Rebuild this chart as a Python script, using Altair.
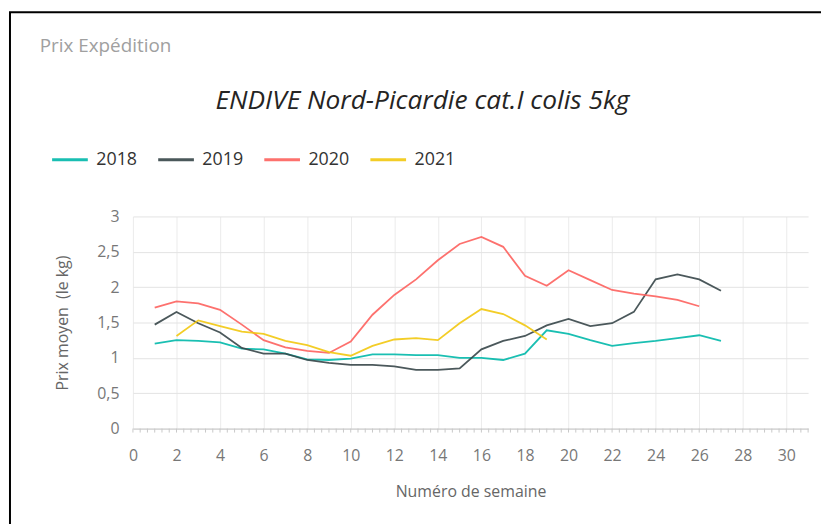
import altair as alt
import pandas as pd

weeks = list(range(1, 28))
v2018 = [1.20, 1.25, 1.24, 1.22, 1.13, 1.12, 1.06, 0.98, 0.97, 0.99, 1.05, 1.05, 1.04, 1.04,
         1.00, 1.00, 0.97, 1.06, 1.39, 1.34, 1.25, 1.17, 1.21, 1.24, 1.28, 1.32, 1.24]
v2019 = [1.47, 1.65, 1.49, 1.36, 1.14, 1.06, 1.06, 0.97, 0.93, 0.90, 0.90, 0.88, 0.83, 0.83,
         0.85, 1.12, 1.24, 1.31, 1.46, 1.55, 1.45, 1.49, 1.65, 2.11, 2.18, 2.11, 1.95]
weeks2020 = list(range(1, 27))
v2020 = [1.71, 1.80, 1.77, 1.68, 1.47, 1.25, 1.15, 1.10, 1.07, 1.23, 1.61, 1.89, 2.11, 2.38,
         2.61, 2.71, 2.57, 2.16, 2.02, 2.24, 2.10, 1.96, 1.91, 1.87, 1.82, 1.73]
weeks2021 = list(range(2, 20))
v2021 = [1.31, 1.53, 1.45, 1.37, 1.34, 1.24, 1.18, 1.08, 1.03, 1.17, 1.26, 1.28, 1.25, 1.49,
         1.69, 1.62, 1.46, 1.26]

years = ["2018", "2019", "2020", "2021"]
colors = ["#01B8AA", "#374649", "#FD625E", "#F2C80F"]
grid_weeks = list(range(0, 32, 2))
y_ticks = [0, 0.5, 1, 1.5, 2, 2.5, 3]
minor_ticks = [k / 3 for k in range(0, 94)]

title_text = "ENDIVE Nord-Picardie cat.I colis 5kg"
subtitle_text = "Prix Expédition"
FONT = "Open Sans"

rows = []
for yr, ws, vs in [("2018", weeks, v2018), ("2019", weeks, v2019),
                   ("2020", weeks2020, v2020), ("2021", weeks2021, v2021)]:
    for w, v in zip(ws, vs):
        rows.append({"semaine": w, "prix": v, "annee": yr})
df = pd.DataFrame(rows)

x_scale = alt.Scale(domain=[0, 31], nice=False, zero=False)
y_scale = alt.Scale(domain=[0, 3], nice=False)

x_axis = alt.Axis(title="Numéro de semaine", values=grid_weeks, format="d",
                  labelOverlap=False, labelFlush=False, grid=True, gridColor="#ebebeb",
                  domainColor="#c8c8c8", ticks=False,
                  labelFontSize=16, labelColor="#777777", labelPadding=19,
                  labelFont=FONT, titleFont=FONT, titleFontSize=16,
                  titleFontWeight="normal", titleColor="#666666", titlePadding=20)

lines = alt.Chart(df).mark_line(strokeWidth=1.8, opacity=0.9).encode(
    x=alt.X("semaine:Q", scale=x_scale, axis=x_axis),
    y=alt.Y("prix:Q", scale=y_scale,
            axis=alt.Axis(title="Prix moyen\u00a0 (le kg)", values=y_ticks, format=".1~f",
                          labelExpr="replace(datum.label, '.', ',')",
                          labelOverlap=False,
                          domain=False, ticks=False, grid=True, gridColor="#e3e3e3",
                          labelFontSize=16, labelColor="#777777", labelPadding=14,
                          labelFont=FONT, titleFont=FONT, titleFontSize=16,
                          titleFontWeight="normal", titleColor="#666666", titlePadding=27)),
    color=alt.Color("annee:N", scale=alt.Scale(domain=years, range=colors),
                    legend=alt.Legend(orient="none", legendX=-83, legendY=-77,
                                      direction="horizontal", title=None,
                                      symbolType="stroke", symbolSize=1296,
                                      symbolStrokeWidth=3, labelFontSize=18,
                                      labelFont=FONT, labelColor="#333333",
                                      columnPadding=14, labelOffset=7, padding=0)),
)

minor = alt.Chart(pd.DataFrame({"m": minor_ticks})).mark_rule(
    color="#c8c8c8", strokeWidth=1).encode(
    x=alt.X("m:Q", scale=x_scale, axis=x_axis),
    y=alt.value(214), y2=alt.value(218))

one = pd.DataFrame({"t": [title_text]})
title = alt.Chart(one).mark_text(fontSize=26.5, font=FONT, fontStyle="italic",
                                 color="#252423", align="center", baseline="middle").encode(
    text="t:N", x=alt.value(292), y=alt.value(-116))

sub = alt.Chart(pd.DataFrame({"t": [subtitle_text]})).mark_text(
    fontSize=19, font=FONT, color="#a0a0a0", align="left", baseline="middle").encode(
    text="t:N", x=alt.value(-94), y=alt.value(-172))

border = alt.Chart(pd.DataFrame({"t": [1]})).mark_rect(
    fill=None, fillOpacity=0, stroke="black", strokeWidth=2).encode(
    x=alt.value(-124), x2=alt.value(760), y=alt.value(-206), y2=alt.value(400))

chart = alt.layer(lines, minor, title, sub, border).properties(
    width=681, height=214,
    padding={"left": 126, "top": 208, "right": 13, "bottom": 94},
    autosize=alt.AutoSizeParams(type="none"),
).configure_view(stroke=None)

chart.save("out.html", embed_options={"renderer": "svg", "actions": False})
